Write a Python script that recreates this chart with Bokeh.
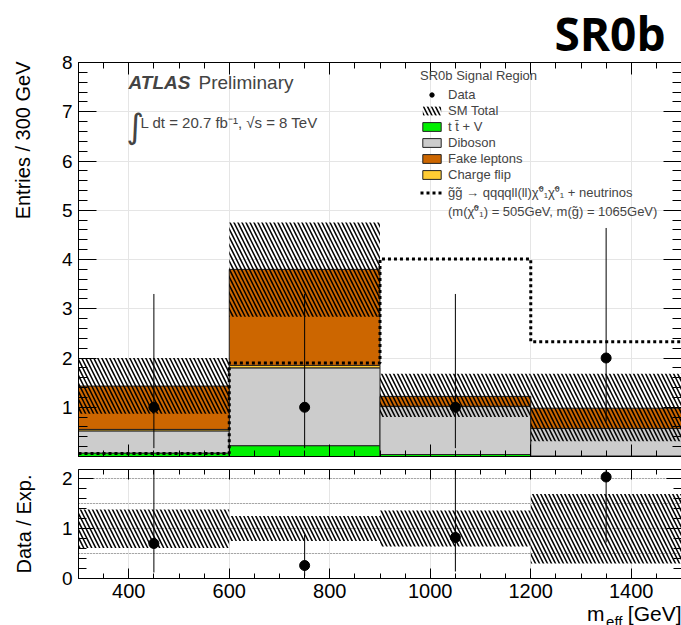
import numpy as np
from bokeh.plotting import figure
from bokeh.layouts import column
from bokeh.models import (LinearAxis, FixedTicker, Range1d, Label, Legend, LegendItem,
                          CustomJSTickFormatter, Grid, Title)
from bokeh.embed import file_html
from bokeh.resources import INLINE

# ---------------- data ----------------
bin_lo = [300, 600, 900, 1200]
bin_hi = [600, 900, 1200, 1500]
ttv = [0.07, 0.22, 0.04, 0.01]
diboson = [0.45, 1.58, 0.98, 0.56]
charge_flip = [0.03, 0.05, 0.00, 0.00]
fake = [0.88, 1.95, 0.20, 0.41]
sm_lo = [0.87, 2.84, 0.80, 0.31]
sm_hi = [2.00, 4.75, 1.68, 1.68]
signal = [0.06, 1.90, 4.01, 2.33]
data_x = [450, 750, 1050, 1350]
data = [1, 1, 1, 2]
data_lo = [0.17, 0.17, 0.17, 0.71]
data_hi = [3.30, 3.30, 3.30, 4.64]
ratio = [0.70, 0.26, 0.82, 2.03]
ratio_lo = [0.12, 0.05, 0.14, 0.72]
ratio_hi = [2.31, 0.87, 2.70, 4.70]
band_lo = [0.61, 0.75, 0.64, 0.30]
band_hi = [1.38, 1.25, 1.36, 1.69]

FONT = "Liberation Sans"
C_TTV = "#00f000"
C_DIB = "#cccccc"
C_FAKE = "#cc6600"
C_CF = "#ffcc33"
HATCH = dict(hatch_pattern="left_diagonal_line", hatch_color="black", hatch_scale=8, hatch_weight=1.5)
NBSP = "\u00a0"


def add_axis(fig, side, ticks, minor, labels, major_len, minor_len, line=True, size="20px", standoff=6):
    ax = LinearAxis(ticker=FixedTicker(ticks=ticks, minor_ticks=minor))
    ax.major_tick_in = major_len
    ax.major_tick_out = 0
    ax.minor_tick_in = minor_len
    ax.minor_tick_out = 0
    ax.major_tick_line_color = "black"
    ax.minor_tick_line_color = "black"
    ax.axis_line_color = "black" if line else None
    if labels:
        ax.major_label_text_font = FONT
        ax.major_label_text_font_size = size
        ax.major_label_text_color = "black"
        ax.major_label_standoff = standoff
    else:
        ax.formatter = CustomJSTickFormatter(code="return ''")
        ax.major_label_text_font_size = "1px"
        ax.major_label_standoff = 0
    fig.add_layout(ax, side)
    return ax


def side_title(fig, text, side, align, size="20px", standoff=0, offset=0, font=FONT, style="normal",
               valign="bottom"):
    t = Title(text=text, align=align, text_font=font, text_font_size=size, vertical_align=valign,
              text_font_style=style, text_color="black", standoff=standoff, offset=offset)
    fig.add_layout(t, side)
    return t


x_major = [400, 600, 800, 1000, 1200, 1400]
x_minor = list(range(300, 1501, 50))

# ---------------- main panel ----------------
p = figure(width=681, height=458, x_range=Range1d(300, 1500), y_range=Range1d(0, 8),
           output_backend="svg", toolbar_location=None,
           x_axis_location=None, y_axis_location=None,
           min_border_left=78, min_border_right=0, min_border_top=61, min_border_bottom=2)
p.outline_line_color = None
p.background_fill_color = "white"
p.border_fill_color = "white"

p.title.text = "SR0b"
p.title.align = "right"
p.title.offset = 16
p.title.text_font = "Open Sans"
p.title.text_font_size = "46px"
p.title.text_font_style = "bold"
p.title.text_color = "black"
p.title.standoff = -2

y_major = [1, 2, 3, 4, 5, 6, 7, 8]
y_minor = [round(v, 1) for v in np.arange(0, 8.01, 0.2)]
yl = add_axis(p, "left", y_major, y_minor, True, 18, 9, size="19px")
# spacer so that the title sits further left, like the reference
yl.axis_label = NBSP
yl.axis_label_text_font_size = "1px"
yl.axis_label_standoff = 21
add_axis(p, "right", y_major, y_minor, False, 18, 9, line=False)
add_axis(p, "below", x_major, x_minor, False, 12, 6)
add_axis(p, "above", x_major, x_minor, False, 12, 6)
side_title(p, "Entries / 300 GeV", "left", "right", standoff=0, offset=-1)

s1 = np.cumsum([ttv, diboson, charge_flip, fake], axis=0)
b_ttv = [0.0] * 4
r_ttv = p.quad(left=bin_lo, right=bin_hi, bottom=b_ttv, top=s1[0], fill_color=C_TTV,
               line_color="#222222", line_width=1)
r_dib = p.quad(left=bin_lo, right=bin_hi, bottom=s1[0], top=s1[1], fill_color=C_DIB,
               line_color="#222222", line_width=1)
r_cf = p.quad(left=bin_lo, right=bin_hi, bottom=s1[1], top=s1[2], fill_color=C_CF,
              line_color="#222222", line_width=1)
r_fake = p.quad(left=bin_lo, right=bin_hi, bottom=s1[2], top=s1[3], fill_color=C_FAKE,
                line_color="#222222", line_width=1)

r_sm = p.quad(left=bin_lo, right=bin_hi, bottom=sm_lo, top=sm_hi, fill_alpha=0,
              line_color=None, **HATCH)
r_sm_box = p.quad(left=[], right=[], bottom=[], top=[], fill_alpha=0, line_color="black", line_width=1)

step_x = bin_lo + [bin_hi[-1]]
step_y = signal + [signal[-1]]
r_sig = p.step(x=step_x, y=step_y, mode="after", line_color="black", line_width=3, line_dash="3 3")
r_dummy = p.line(x=[], y=[], line_alpha=0)

p.segment(x0=data_x, y0=data_lo, x1=data_x, y1=data_hi, line_color="black", line_width=1)
r_data = p.scatter(x=data_x, y=data, size=10, color="black")

legend = Legend(items=[
    LegendItem(label="Data", renderers=[r_data]),
    LegendItem(label="SM Total", renderers=[r_sm, r_sm_box]),
    LegendItem(label="t t\u0304 + V", renderers=[r_ttv]),
    LegendItem(label="Diboson", renderers=[r_dib]),
    LegendItem(label="Fake leptons", renderers=[r_fake]),
    LegendItem(label="Charge flip", renderers=[r_cf]),
    LegendItem(label="g\u0303g\u0303 \u2192 qqqqll(ll)\u03c7\u0303\u2070\u2081\u03c7\u0303\u2070\u2081 + neutrinos",
               renderers=[r_sig]),
    LegendItem(label="(m(\u03c7\u0303\u2070\u2081) = 505GeV, m(g\u0303) = 1065GeV)", renderers=[r_dummy]),
], location=(342, 236))
legend.title = "SR0b Signal Region"
legend.title_text_font = FONT
legend.title_text_font_size = "13px"
legend.title_text_font_style = "normal"
legend.title_standoff = 4
legend.label_text_font = FONT
legend.label_text_font_size = "13px"
legend.label_height = 13
legend.glyph_height = 11
legend.glyph_width = 23
legend.label_standoff = 5
legend.spacing = 1
legend.padding = 0
legend.margin = 0
legend.border_line_color = None
legend.background_fill_alpha = 0
p.add_layout(legend)

# texts inside the frame
p.add_layout(Label(x=50, y=374, x_units="screen", y_units="screen", text="ATLAS",
                   text_font=FONT, text_font_size="19px", text_font_style="bold italic",
                   text_baseline="middle"))
p.add_layout(Label(x=120, y=374, x_units="screen", y_units="screen", text="Preliminary",
                   text_font=FONT, text_font_size="19px", text_baseline="middle"))
p.add_layout(Label(x=48, y=331, x_units="screen", y_units="screen", text="\u222b",
                   text_font="DejaVu Sans", text_font_size="34px", text_baseline="middle"))
p.add_layout(Label(x=62, y=334, x_units="screen", y_units="screen",
                   text="L dt = 20.7 fb\u207b\u00b9, \u221as = 8 TeV",
                   text_font=FONT, text_font_size="15px", text_baseline="middle"))

# ---------------- ratio panel ----------------
p2 = figure(width=681, height=167, x_range=p.x_range, y_range=Range1d(0, 2.18),
            output_backend="svg", toolbar_location=None,
            x_axis_location=None, y_axis_location=None,
            min_border_left=78, min_border_right=0, min_border_top=11, min_border_bottom=47)
p2.outline_line_color = None
p2.background_fill_color = "white"
p2.border_fill_color = "white"

r_major = [0, 1, 2]
r_minor = [round(v, 1) for v in np.arange(0, 2.19, 0.2)]
rl = add_axis(p2, "left", r_major, r_minor, True, 15, 8, size="19px")
rl.axis_label = "Data / Exp."
rl.axis_label_text_font = FONT
rl.axis_label_text_font_size = "20px"
rl.axis_label_text_font_style = "normal"
rl.axis_label_text_color = "black"
rl.axis_label_standoff = 24
add_axis(p2, "right", r_major, r_minor, False, 15, 8, line=False)
add_axis(p2, "below", x_major, x_minor, True, 10, 5, standoff=5)
add_axis(p2, "above", x_major, x_minor, False, 10, 5)
side_title(p2, "m" + NBSP * 4 + "[GeV]", "below", "right", size="21px", standoff=-2)
side_title(p2, "eff", "below", "right", size="15px", standoff=-22, offset=59, valign="top")

p2.add_layout(Grid(dimension=1, ticker=FixedTicker(ticks=[0.5, 1.0, 1.5, 2.0]),
                   grid_line_color="#666666", grid_line_dash="1 2", grid_line_width=1))

p2.quad(left=bin_lo, right=bin_hi, bottom=band_lo, top=band_hi, fill_alpha=0, line_color=None, **HATCH)
p2.segment(x0=data_x, y0=ratio_lo, x1=data_x, y1=ratio_hi, line_color="black", line_width=1)
p2.scatter(x=data_x, y=ratio, size=10, color="black")

layout = column(p, p2, spacing=0)
open("out.html", "w").write(file_html(layout, INLINE))
